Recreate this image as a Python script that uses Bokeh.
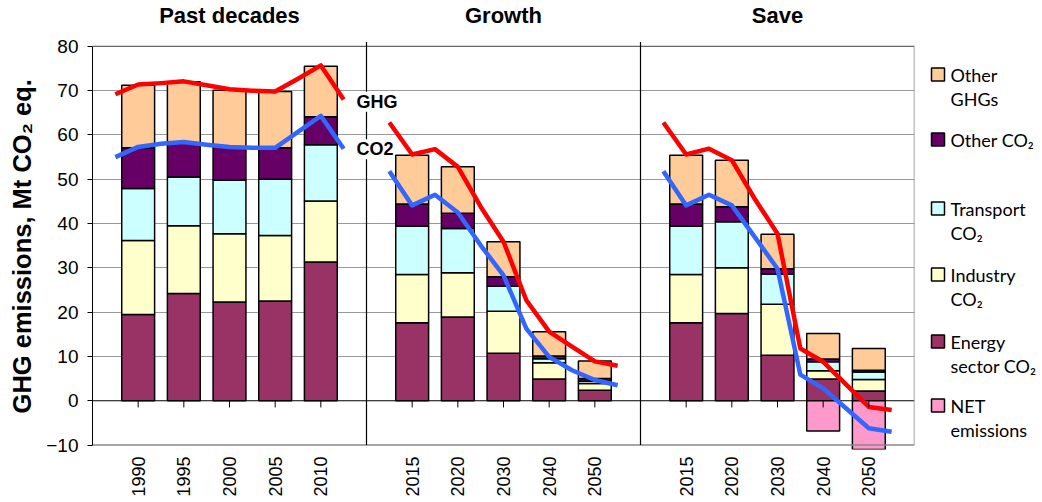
import numpy as np
from bokeh.plotting import figure
from bokeh.models import Range1d, FixedTicker, Label
from bokeh.layouts import row
from bokeh.embed import file_html
from bokeh.resources import INLINE
from bokeh.core.properties import value

# ---------------- data ----------------
panel_titles = ["Past decades", "Growth", "Save"]
years_past = ["1990", "1995", "2000", "2005", "2010"]
years_growth = ["2015", "2020", "2030", "2040", "2050"]
years_save = ["2015", "2020", "2030", "2040", "2050"]

energy_past = [19.5, 24.2, 22.3, 22.5, 31.3]
industry_past = [16.7, 15.3, 15.4, 14.8, 13.8]
transport_past = [11.7, 11.0, 12.1, 12.7, 12.7]
otherco2_past = [9.2, 7.7, 7.5, 7.1, 6.3]
otherghg_past = [14.1, 13.8, 12.8, 12.7, 11.4]
net_past = [0, 0, 0, 0, 0]

energy_growth = [17.6, 18.9, 10.7, 4.9, 2.4]
industry_growth = [10.9, 10.0, 9.5, 3.7, 1.5]
transport_growth = [10.9, 10.0, 5.7, 0.9, 0.5]
otherco2_growth = [5.0, 3.4, 2.1, 0.6, 0.6]
otherghg_growth = [11.0, 10.5, 7.9, 5.5, 4.0]
net_growth = [0, 0, 0, 0, 0]

energy_save = [17.6, 19.7, 10.3, 4.9, 2.2]
industry_save = [10.9, 10.3, 11.5, 1.9, 2.6]
transport_save = [10.9, 10.4, 6.8, 2.0, 1.7]
otherco2_save = [5.0, 3.4, 1.2, 0.6, 0.4]
otherghg_save = [11.0, 10.5, 7.8, 5.8, 4.9]
net_save = [0, 0, 0, -6.8, -12.0]

# total GHG and CO2 lines (half-period resolution)
ghg_past = [69.2, 71.4, 71.7, 72.1, 71.2, 70.3, 70.0, 69.8, 72.7, 75.7, 68.0]
co2_past = [55.0, 57.3, 58.0, 58.4, 57.8, 57.3, 57.1, 57.1, 60.7, 64.3, 56.9]
ghg_growth = [62.8, 55.6, 56.8, 52.8, 43.8, 35.9, 22.7, 15.6, 12.2, 8.9, 7.9]
co2_growth = [51.8, 44.1, 46.5, 42.5, 35.1, 28.3, 16.3, 9.9, 6.9, 4.7, 3.5]
ghg_save = [62.8, 55.6, 56.9, 54.3, 45.6, 37.7, 11.8, 8.8, 3.7, -1.4, -2.1]
co2_save = [51.8, 44.1, 46.5, 44.1, 37.0, 29.8, 5.9, 2.8, -1.7, -6.2, -7.0]

series_colors = ["#993366", "#FFFFCC", "#CCFFFF", "#660066", "#FFCC99"]
net_color = "#FF99CC"
legend_labels = [["Other", "GHGs"], ["Other CO₂"], ["Transport", "CO₂"],
                 ["Industry", "CO₂"], ["Energy", "sector CO₂"], ["NET", "emissions"]]
legend_colors = ["#FFCC99", "#660066", "#CCFFFF", "#FFFFCC", "#993366", "#FF99CC"]

FONT = "Liberation Sans"

panels = [
    (years_past, [energy_past, industry_past, transport_past, otherco2_past, otherghg_past], net_past, ghg_past, co2_past),
    (years_growth, [energy_growth, industry_growth, transport_growth, otherco2_growth, otherghg_growth], net_growth, ghg_growth, co2_growth),
    (years_save, [energy_save, industry_save, transport_save, otherco2_save, otherghg_save], net_save, ghg_save, co2_save),
]

FH = 449
# frame: 822 x 449 px; y range extended above 80 so that panel titles sit inside the frame
p = figure(frame_width=822, frame_height=FH, x_range=Range1d(0, 18), y_range=Range1d(-11, 90.35),
           output_backend="svg", toolbar_location=None,
           min_border_left=92, min_border_right=4, min_border_top=0, min_border_bottom=0)
p.outline_line_color = None
p.background_fill_color = "white"

# grid
p.ygrid.ticker = FixedTicker(ticks=[10, 20, 30, 40, 50, 60, 70])
p.ygrid.grid_line_color = "#999999"
p.xgrid.visible = False

# zero line (under bars)
p.segment(x0=[0], x1=[18], y0=[0], y1=[0], line_color="black", line_width=1.2)

tick_pos = []
tick_labels = {}
for k, (years, comps, net, ghg, co2) in enumerate(panels):
    xs = [6 * k + 1 + i for i in range(len(years))]
    for x, y in zip(xs, years):
        tick_pos.append(x)
        tick_labels[x] = y
    bottom = np.zeros(len(years))
    for vals, col in zip(comps, series_colors):
        v = np.array(vals, dtype=float)
        p.vbar(x=xs, bottom=bottom, top=bottom + v, width=0.72,
               fill_color=col, line_color="black", line_width=1.5)
        bottom = bottom + v
    n = np.array(net, dtype=float)
    idx = [i for i in range(len(n)) if n[i] < 0]
    if idx:
        p.vbar(x=[xs[i] for i in idx], bottom=[n[i] for i in idx], top=[0] * len(idx), width=0.72,
               fill_color=net_color, line_color="black", line_width=1.5)
    lx = [6 * k + 0.5 + 0.5 * i for i in range(len(ghg))]
    p.line(lx, ghg, line_color="#FF0000", line_width=4.5, line_join="round")
    p.line(lx, co2, line_color="#3366FF", line_width=4.5, line_join="round")
    p.add_layout(Label(x=6 * k + 3, y=87.0, text=panel_titles[k], text_align="center",
                       text_baseline="middle", text_font=FONT, text_font_size="22px",
                       text_font_style="bold", text_color="black"))

# tick marks at the zero line
p.segment(x0=tick_pos, x1=tick_pos, y0=[0] * len(tick_pos), y1=[-1.5] * len(tick_pos),
          line_color="black", line_width=1)

# frame lines
p.segment(x0=[0], x1=[18], y0=[80], y1=[80], line_color="#666666", line_width=1.2)
p.segment(x0=[0], x1=[18], y0=[-10], y1=[-10], line_color="#888888", line_width=1.5)
p.segment(x0=[6, 12], x1=[6, 12], y0=[-10, -10], y1=[81, 81], line_color="black", line_width=1.2)
p.segment(x0=[18], x1=[18], y0=[-10], y1=[80], line_color="#888888", line_width=1.5)

# line labels
for txt, yv in [("GHG", 67.5), ("CO2", 56.8)]:
    p.add_layout(Label(x=5.78, y=yv, text=txt, text_align="left", text_baseline="middle",
                       text_font=FONT, text_font_size="18px", text_font_style="bold",
                       text_color="black", background_fill_color="white"))

# axes
p.yaxis.ticker = FixedTicker(ticks=list(range(-10, 81, 10)))
p.yaxis.bounds = (-10, 80)
p.yaxis.axis_line_color = "black"
p.yaxis.major_tick_line_color = "black"
p.yaxis.major_tick_out = 5
p.yaxis.major_tick_in = 0
p.yaxis.minor_tick_line_color = None
p.yaxis.major_label_text_font = FONT
p.yaxis.major_label_text_font_size = "19px"
p.yaxis.major_label_text_color = "black"
p.yaxis.major_label_standoff = 9
# trailing non-breaking spaces move the centred title down to where the original has it
p.yaxis.axis_label = "GHG emissions, Mt CO₂ eq." + "\u00a0" * 6
p.yaxis.axis_label_text_font = FONT
p.yaxis.axis_label_text_font_size = "25.5px"
p.yaxis.axis_label_text_font_style = "bold"
p.yaxis.axis_label_text_color = "black"
p.yaxis.axis_label_standoff = 7

p.xaxis.ticker = FixedTicker(ticks=tick_pos)
p.xaxis.major_label_overrides = tick_labels
p.xaxis.major_label_orientation = np.pi / 2
p.xaxis.axis_line_color = None
p.xaxis.major_tick_line_color = None
p.xaxis.major_tick_out = 0
p.xaxis.major_tick_in = 0
p.xaxis.minor_tick_line_color = None
p.xaxis.major_label_text_font = FONT
p.xaxis.major_label_text_font_size = "18px"
p.xaxis.major_label_text_color = "black"
p.xaxis.major_label_standoff = 7

# legend figure (pixel coordinates of the page; frame aligned with the main frame)
lg = figure(width=122, frame_height=FH, x_range=Range1d(919, 1041), y_range=Range1d(1 + FH, 1),
            output_backend="svg", toolbar_location=None, min_border=0,
            x_axis_type=None, y_axis_type=None)
lg.outline_line_color = None
lg.grid.visible = False
sq_y = [75, 140, 209, 275, 342, 406]
lg.rect(x=[938.5] * 6, y=sq_y, width=13, height=13, fill_color=legend_colors,
        line_color="black", line_width=1.5)
tx, ty, tt = [], [], []
for yv, lines in zip(sq_y, legend_labels):
    for j, t in enumerate(lines):
        tx.append(951)
        ty.append(yv + 24 * j)
        tt.append(t)
lg.text(x=tx, y=ty, text=tt, text_font=value("Lato"), text_font_size="18px",
        text_baseline="middle", text_align="left", text_color="black")

layout = row(p, lg)
open("out.html", "w").write(file_html(layout, INLINE))
